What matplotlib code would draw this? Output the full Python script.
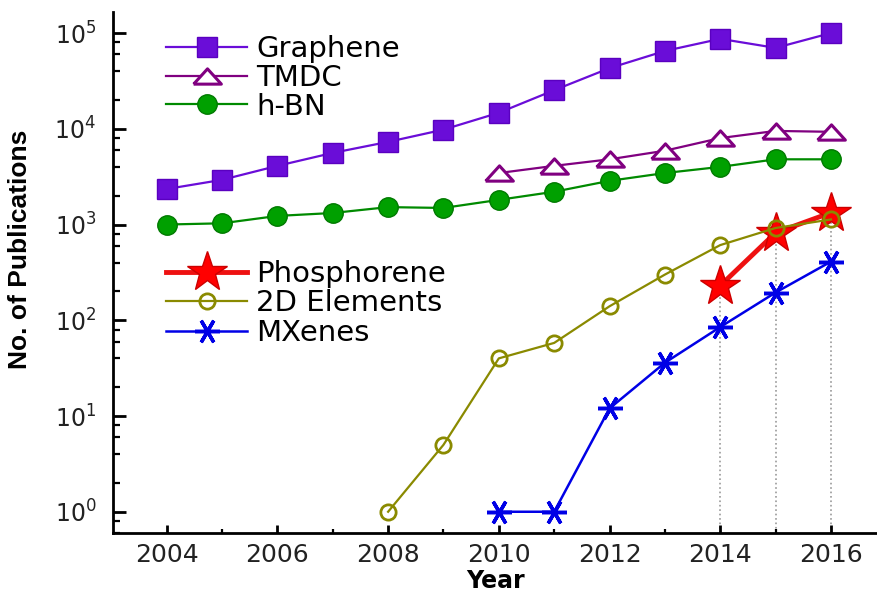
## Publications per year for 2D materials

import numpy as np
import matplotlib.pyplot as plt
from matplotlib.ticker import LogLocator, MultipleLocator, NullFormatter

plt.rcParams['font.family'] = ['DejaVu Sans']
plt.rcParams['mathtext.default'] = 'regular'

# Data

years = list(range(2004, 2017))
graphene = [2350, 2930, 4100, 5600, 7300, 9800, 14700, 25300, 43000, 65000, 87000, 70000, 100000]
hbn = [1000, 1030, 1230, 1320, 1520, 1490, 1810, 2200, 2860, 3450, 4000, 4800, 4800]

tmdc_years = list(range(2010, 2017))
tmdc = [3450, 4100, 4800, 5900, 8000, 9500, 9300]

elem_years = list(range(2008, 2017))
elements = [1, 5, 40, 58, 140, 300, 610, 920, 1130]

phos_years = [2014, 2015, 2016]
phosphorene = [230, 820, 1330]

mxene_years = list(range(2010, 2017))
mxenes = [1, 1, 12, 36, 85, 195, 410]

# Plotting

fig = plt.figure(figsize=(8.78, 5.93), dpi=100)
ax = fig.add_axes([0.1287, 0.1012, 0.8713, 0.8786])

ymin = 0.6
ax.vlines(phos_years, ymin, phosphorene, colors='#999999', linestyles=':', linewidth=1.2, zorder=1)

tri = [(-1, -0.55), (1, -0.55), (0, 0.55), (-1, -0.55)]

l_gr, = ax.plot(years, graphene, color='#6a0dd8', lw=1.6, marker='s', ms=14,
                mfc='#6a0dd8', mec='#5a00c0', label='Graphene', zorder=3)
l_tm, = ax.plot(tmdc_years, tmdc, color='#800080', lw=1.6, marker=tri, ms=20,
                mfc='white', mec='#800080', mew=2.2, label='TMDC', zorder=3)
l_bn, = ax.plot(years, hbn, color='#008a00', lw=1.6, marker='o', ms=14,
                mfc='#00a000', mec='#007a00', label='h-BN', zorder=3)
l_ph, = ax.plot(phos_years, phosphorene, color='#ee1111', lw=3.5, marker='*', ms=30,
                mfc='#ff0000', mec='#cc0000', label='Phosphorene', zorder=3)
l_el, = ax.plot(elem_years, elements, color='#8a8a00', lw=1.6, marker='o', ms=11,
                mfc='none', mec='#8a8a00', mew=2.0, label='2D Elements', zorder=4)
l_mx, = ax.plot(mxene_years, mxenes, color='#0000e6', lw=1.8, marker=(6, 2, 90), ms=18,
                mec='#0000e6', mew=2.5, label='MXenes', zorder=3)

ax.set_yscale('log')
ax.set_ylim(ymin, 1.66e5)
ax.set_xlim(2003.03, 2016.85)

ax.xaxis.set_major_locator(MultipleLocator(2))
ax.xaxis.set_minor_locator(MultipleLocator(1))
ax.yaxis.set_major_locator(LogLocator(base=10, numticks=10))
ax.yaxis.set_minor_locator(LogLocator(base=10, subs=[2, 4, 6, 8], numticks=10))
ax.yaxis.set_minor_formatter(NullFormatter())

for side in ['top', 'right']:
    ax.spines[side].set_visible(False)
for side in ['left', 'bottom']:
    ax.spines[side].set_linewidth(2.0)

ax.tick_params(axis='y', which='major', direction='in', length=9, width=2, labelsize=17,
               labelcolor='#222222', pad=12)
ax.tick_params(axis='y', which='minor', direction='in', length=5, width=1.6)
ax.tick_params(axis='x', which='major', direction='in', length=6, width=2, labelsize=18,
               labelcolor='#222222', pad=7)
ax.tick_params(axis='x', which='minor', direction='in', length=3, width=1.6)

ax.set_xlabel("Year", fontsize=17, fontweight='bold', labelpad=2)
ax.set_ylabel("No. of Publications", fontsize=19, fontweight='bold',
              family=['Liberation Sans', 'DejaVu Sans'])
ax.yaxis.set_label_coords(-0.106, 0.545)

leg_kw = dict(loc='upper left', frameon=False, fontsize=21, borderpad=0, borderaxespad=0,
              handlelength=2.8, handletextpad=0.3, numpoints=1)
leg1 = ax.legend(handles=[l_gr, l_tm, l_bn], bbox_to_anchor=(0.069, 0.955),
                 labelspacing=0.02, **leg_kw)
ax.add_artist(leg1)
ax.legend(handles=[l_ph, l_el, l_mx], bbox_to_anchor=(0.069, 0.524),
          labelspacing=0.05, **leg_kw)

plt.savefig('out.png', dpi=100)
